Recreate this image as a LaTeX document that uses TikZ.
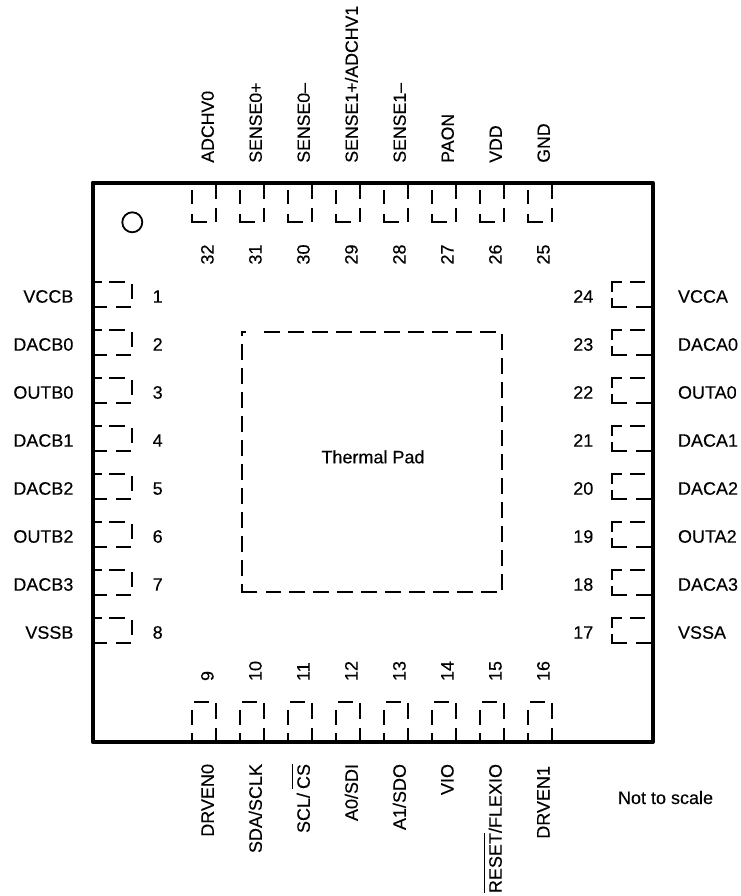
\documentclass[tikz,border=0pt]{standalone}
\usepackage{fontspec}
\setmainfont{Liberation Sans}[FakeBold=0.25]
\newcommand{\ovl}[1]{\setbox0\hbox{#1}\rlap{\rule[16.4pt]{\wd0}{1pt}}\box0}
\tikzset{
  pkg/.style={line width=4pt,line join=round},
  padline/.style={line width=1.8pt},
  thermal/.style={line width=1.9pt},
  tdash/.style={thermal,dash pattern=on 16pt off 8pt},
  lbl/.style={inner sep=0pt,outer sep=0pt,font=\fontsize{18}{20}\selectfont,text=black},
  vlbl/.style={lbl,rotate=90},
}
\begin{document}
\begin{tikzpicture}[x=1pt,y=-1pt]
\useasboundingbox (0,0) rectangle (740,896);
\fill[white] (0,0) rectangle (740,896);
% package outline
\draw[pkg] (92.7,182.7) rectangle (652.7,742);
\draw[line width=1.8pt] (132.3,222.3) circle (10);
% thermal pad
\draw[tdash] (263.5,332.3) -- (502.3,332.3) -- (502.3,592.3) -- (265.5,592.3);
\draw[thermal] (257.3,592.3) -- (242,592.3) -- (242,584);
\draw[tdash] (242,575.7) -- (242,343.3);
\draw[thermal] (242,335.7) -- (242,332.3) -- (246,332.3);
\node[lbl,anchor=base] (tp) at (373,463.3) {Thermal Pad};
\node[lbl,anchor=base west] (nts) at (618,804) {Not to scale};
% top and bottom pads
\foreach \k in {0,...,7}{
  \begin{scope}[shift={(48*\k,0)}]
    \draw[padline] (192,190)--(192,204) (192,214)--(192,222)--(207,222) (216,183)--(216,199) (216,208)--(216,222);
    \draw[padline] (194,702)--(209,702) (192,710)--(192,725) (192,733)--(192,742) (216,703)--(216,719) (216,728)--(216,742);
  \end{scope}
  \begin{scope}[shift={(0,48*\k)}]
    \draw[padline] (93,282)--(102,282) (109,282)--(125,282) (132,284)--(132,299) (93,306.7)--(106.5,306.7) (116,306.7)--(131,306.7);
    \draw[padline] (621.5,282)--(612,282)--(612,291.5) (630,282)--(645,282) (612,298)--(612,306.7)--(626.7,306.7) (636,306.7)--(652,306.7);
  \end{scope}
  \pgfmathtruncatemacro{\pl}{1+\k}
  \pgfmathtruncatemacro{\pr}{24-\k}
  \pgfmathtruncatemacro{\pt}{32-\k}
  \pgfmathtruncatemacro{\pb}{9+\k}
  \node[lbl,anchor=base] (n\pl) at (157.7,302.7+48*\k) {\pl};
  \node[lbl,anchor=base] (n\pr) at (583.3,302.7+48*\k) {\pr};
  \node[vlbl,anchor=base] (n\pt) at (213.6+48*\k,254.5) {\pt};
  \node[vlbl,anchor=base west] (n\pb) at (213.6+48*\k,681) {\pb};
}
% left labels
\foreach \i/\t in {0/VCCB,1/DACB0,2/OUTB0,3/DACB1,4/DACB2,5/OUTB2,6/DACB3,7/VSSB}
  \node[lbl,anchor=base east] (L\i) at (73.4,302.7+48*\i) {\t};
% right labels
\foreach \i/\t in {0/VCCA,1/DACA0,2/OUTA0,3/DACA1,4/DACA2,5/OUTA2,6/DACA3,7/VSSA}
  \node[lbl,anchor=base west] (R\i) at (678,302.7+48*\i) {\t};
% top labels
\foreach \i/\t in {0/ADCHV0,1/SENSE0+,2/SENSE0–,3/{SENSE1+/ADCHV1},4/SENSE1–,5/PAON,6/VDD,7/GND}
  \node[vlbl,anchor=base west] (T\i) at (213.8+48*\i,162.7) {\fontsize{17.7}{20}\selectfont\t};
% bottom labels
\node[vlbl,anchor=base east] (B0) at (213.8,764) {DRVEN0};
\node[vlbl,anchor=base east] (B1) at (261.8,764) {SDA/SCLK};
\node[vlbl,anchor=base east] (B2) at (309.8,764) {SCL/\kern4pt\ovl{CS}};
\node[vlbl,anchor=base east] (B3) at (357.8,764) {A0/SDI};
\node[vlbl,anchor=base east] (B4) at (405.8,764) {A1/SDO};
\node[vlbl,anchor=base east] (B5) at (453.6,764) {VIO};
\node[vlbl,anchor=base east] (B6) at (501.7,764) {\ovl{RESET}/FLEXIO};
\node[vlbl,anchor=base east] (B7) at (549.5,766) {DRVEN1};
\end{tikzpicture}
\end{document}
